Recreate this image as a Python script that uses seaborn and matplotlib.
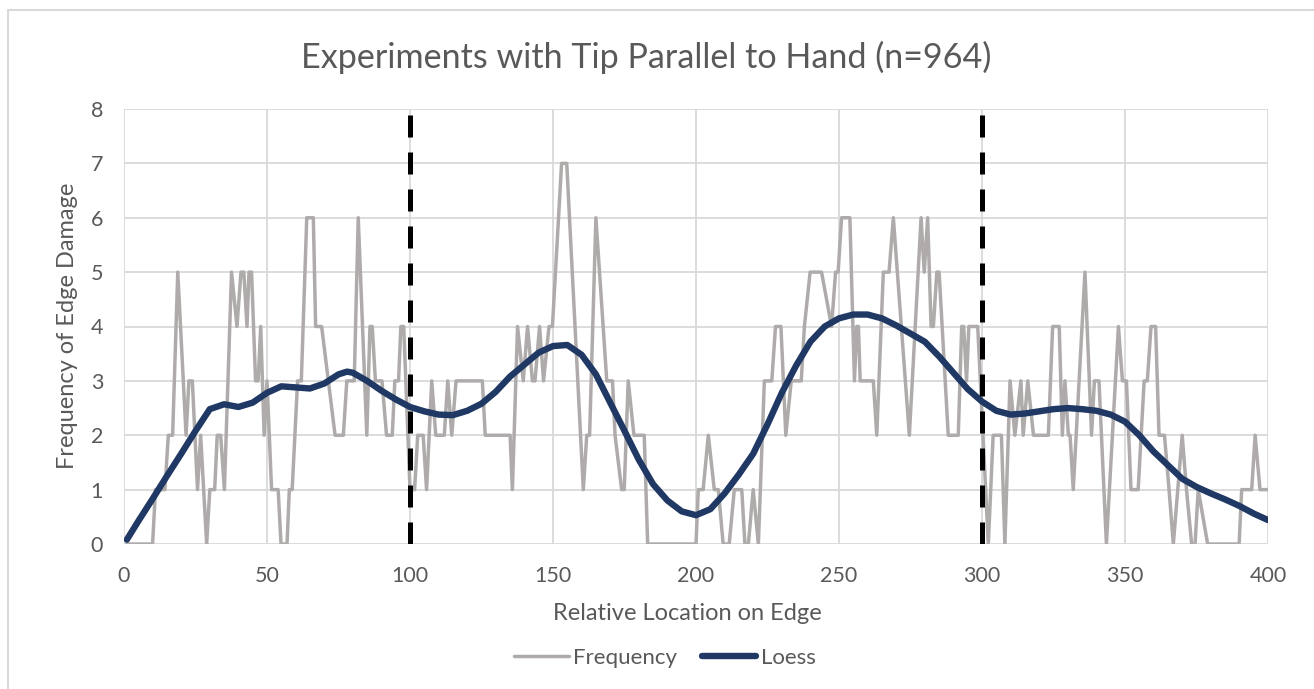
import matplotlib
matplotlib.use("Agg")
import matplotlib.pyplot as plt
import pandas as pd
import seaborn as sns
from matplotlib.lines import Line2D

# Edge-damage frequency along the edge (vertices of the raw trace)
freq_x = [1, 10, 11, 14.3, 15.5, 17, 18.8, 21.7, 22.7, 23.9, 25.7, 26.8, 28.9, 30, 31.7,
          32.6, 33.8, 35.1, 37.6, 39.5, 40.9, 41.9, 43, 43.7, 44.6, 46, 46.9, 47.8, 49, 50,
          51.6, 53.9, 54.9, 57, 57.8, 58.8, 60.7, 62, 63.9, 66.2, 67, 69.1, 73.8, 76.7, 77.9,
          80.5, 81.9, 84.9, 86, 86.8, 87.9, 90.2, 91.8, 93.8, 94.7, 96, 96.8, 97.8, 100,
          101.6, 102.7, 104.6, 105.8, 107.6, 109, 112, 113.2, 114.6, 116.1, 125.3, 126.3,
          135, 135.8, 137.6, 139.6, 141.1, 142.8, 143.7, 145.3, 146.7, 148.6, 149.8, 153,
          154.8, 160.6, 161.8, 162.8, 165, 168.8, 170.8, 171.7, 174, 174.9, 176.3, 178.3,
          181.9, 183.1, 200, 200.8, 202.5, 204.3, 206.4, 207.8, 209.5, 211.6, 213.4, 216,
          217.1, 218.3, 220, 221.8, 223.9, 226.5, 227.8, 229.7, 231.4, 233.3, 236.8, 237.9,
          239.9, 243.9, 247.4, 248.8, 249.7, 250.9, 253.8, 255.4, 256.2, 256.8, 257.4, 262,
          263.2, 265.5, 267.5, 269, 274.6, 278.7, 279.8, 281, 282.2, 283, 284.2, 285, 288.2,
          291.7, 292.9, 293.6, 294.6, 295.4, 298.5, 302.2, 303.9, 306.8, 308, 309.8, 311.5,
          313.6, 314.4, 316, 318, 323.2, 324.7, 327, 328.1, 329, 330.2, 330.8, 331.9, 336,
          338.3, 339.3, 340.9, 343.5, 347.7, 349.1, 350.5, 352.1, 354.6, 356.7, 357.8, 359.1,
          360.7, 361.9, 363.8, 365.4, 366.9, 370, 371.5, 373.3, 374.5, 375.6, 378.9, 389.9,
          390.8, 394.3, 395.5, 397.2, 400]
freq_y = [0, 0, 1, 1, 2, 2, 5, 2, 3, 3, 1, 2, 0, 1, 1,
          2, 2, 1, 5, 4, 5, 5, 4, 5, 5, 3, 3, 4, 2, 3,
          1, 1, 0, 0, 1, 1, 3, 3, 6, 6, 4, 4, 2, 2, 3,
          3, 6, 2, 4, 4, 3, 3, 2, 2, 3, 3, 4, 4, 1,
          1, 2, 2, 1, 3, 2, 2, 3, 2, 3, 3, 2,
          2, 1, 4, 3, 4, 3, 3, 4, 3, 4, 4, 7,
          7, 1, 2, 2, 6, 3, 3, 2, 1, 1, 3, 2,
          2, 0, 0, 1, 1, 2, 1, 1, 0, 0, 1, 1,
          0, 0, 1, 0, 3, 3, 4, 4, 2, 3, 3, 4,
          5, 5, 4, 5, 5, 6, 6, 3, 4, 4, 3, 3,
          2, 5, 5, 6, 2, 6, 5, 6, 4, 4, 5, 5, 2,
          2, 4, 4, 3, 4, 4, 0, 2, 2, 0, 3, 2,
          3, 2, 3, 2, 2, 4, 4, 2, 3, 2, 2, 1, 5,
          2, 3, 3, 0, 4, 3, 3, 1, 1, 3, 3, 4,
          4, 2, 2, 1, 0, 2, 1, 0, 0, 1, 0, 0,
          1, 1, 2, 1, 1]

# Loess smooth of the frequency trace
loess_x = [1, 5, 10, 15, 20, 25, 30, 35, 40, 45, 50, 55, 60, 65, 70, 75, 78, 80, 85, 90,
           95, 100, 105, 110, 115, 120, 125, 130, 135, 140, 145, 150, 155, 160, 165, 170,
           175, 180, 185, 190, 195, 200, 205, 210, 215, 220, 225, 230, 235, 240, 245, 250,
           255, 260, 265, 270, 275, 280, 285, 290, 295, 300, 305, 310, 315, 320, 325, 330,
           335, 340, 345, 350, 355, 360, 365, 370, 375, 380, 385, 390, 395, 400]
loess_y = [0.08, 0.42, 0.83, 1.25, 1.66, 2.08, 2.48, 2.57, 2.52, 2.6, 2.78, 2.9, 2.88, 2.86,
           2.95, 3.12, 3.17, 3.15, 3.0, 2.82, 2.66, 2.52, 2.44, 2.38, 2.37, 2.45, 2.58, 2.8,
           3.08, 3.3, 3.52, 3.64, 3.66, 3.48, 3.12, 2.6, 2.08, 1.55, 1.1, 0.8, 0.6, 0.53,
           0.64, 0.93, 1.28, 1.66, 2.2, 2.78, 3.28, 3.72, 4.0, 4.15, 4.22, 4.22, 4.15, 4.02,
           3.87, 3.72, 3.45, 3.15, 2.85, 2.62, 2.45, 2.38, 2.4, 2.44, 2.48, 2.5, 2.48, 2.45,
           2.38, 2.25, 2.0, 1.7, 1.45, 1.2, 1.05, 0.93, 0.82, 0.7, 0.56, 0.44]

# Zone boundaries along the edge
boundaries = [100, 300]

x_ticks = [0, 50, 100, 150, 200, 250, 300, 350, 400]
y_ticks = [0, 1, 2, 3, 4, 5, 6, 7, 8]

title = "Experiments with Tip Parallel to Hand (n=964)"
x_label = "Relative Location on Edge"
y_label = "Frequency of Edge Damage"

freq_df = pd.DataFrame({"location": freq_x, "frequency": freq_y})
loess_df = pd.DataFrame({"location": loess_x, "loess": loess_y})

sns.set_theme(style="white")
plt.rcParams["font.family"] = ["Lato", "DejaVu Sans"]

TEXT = "#595959"
GRID = "#D9D9D9"
GRAY = "#AFABAB"
NAVY = "#1F3864"

W, H = 1314, 689
fig = plt.figure(figsize=(W / 100, H / 100), dpi=100)
ax = fig.add_axes([124 / W, 1 - 544 / H, (1268 - 124) / W, (544 - 109) / H])

sns.lineplot(data=freq_df, x="location", y="frequency", ax=ax, color=GRAY,
             linewidth=2.5, sort=False, estimator=None, zorder=3)
sns.lineplot(data=loess_df, x="location", y="loess", ax=ax, color=NAVY,
             linewidth=4.6, sort=False, estimator=None, zorder=4,
             solid_capstyle="round", solid_joinstyle="round")

for b in boundaries:
    ax.axvline(b, color="black", linewidth=3.6, dashes=(4.4, 3.0), zorder=5)

ax.set_xlim(0, 400)
ax.set_ylim(0, 8)
ax.set_xticks(x_ticks)
ax.set_yticks(y_ticks)
ax.grid(True, color=GRID, linewidth=1.3, zorder=0)
ax.set_axisbelow(True)
for s in ax.spines.values():
    s.set_visible(False)
ax.tick_params(axis="both", length=0, labelsize=15.5, colors=TEXT)
ax.tick_params(axis="y", pad=15)
ax.tick_params(axis="x", pad=16)
ax.set_xlabel("")
ax.set_ylabel("")

fig.text(646 / W, 1 - 57 / H, title, ha="center", va="center", fontsize=24.6,
         color=TEXT)
fig.text(687 / W, 1 - 614 / H, x_label, ha="center", va="center", fontsize=17, color=TEXT)
fig.text(68 / W, 1 - 326 / H, y_label, ha="center", va="center", rotation=90,
         fontsize=17, color=TEXT)

handles = [Line2D([], [], color=GRAY, linewidth=2.5),
           Line2D([], [], color=NAVY, linewidth=4.6, solid_capstyle="round")]
fig.legend(handles, ["Frequency", "Loess"], loc="center",
           bbox_to_anchor=(665 / W, 1 - 658 / H), ncol=2, frameon=False,
           fontsize=16, labelcolor=TEXT, handlelength=2.45, handletextpad=0.2,
           columnspacing=1.1)

# Chart-area border
fig.add_artist(Line2D([8 / W, 8 / W], [0, 1 - 10 / H], transform=fig.transFigure,
                      color=GRID, linewidth=1.5))
fig.add_artist(Line2D([8 / W, 1], [1 - 10 / H, 1 - 10 / H], transform=fig.transFigure,
                      color=GRID, linewidth=1.5))

fig.savefig("out.png", dpi=100)
